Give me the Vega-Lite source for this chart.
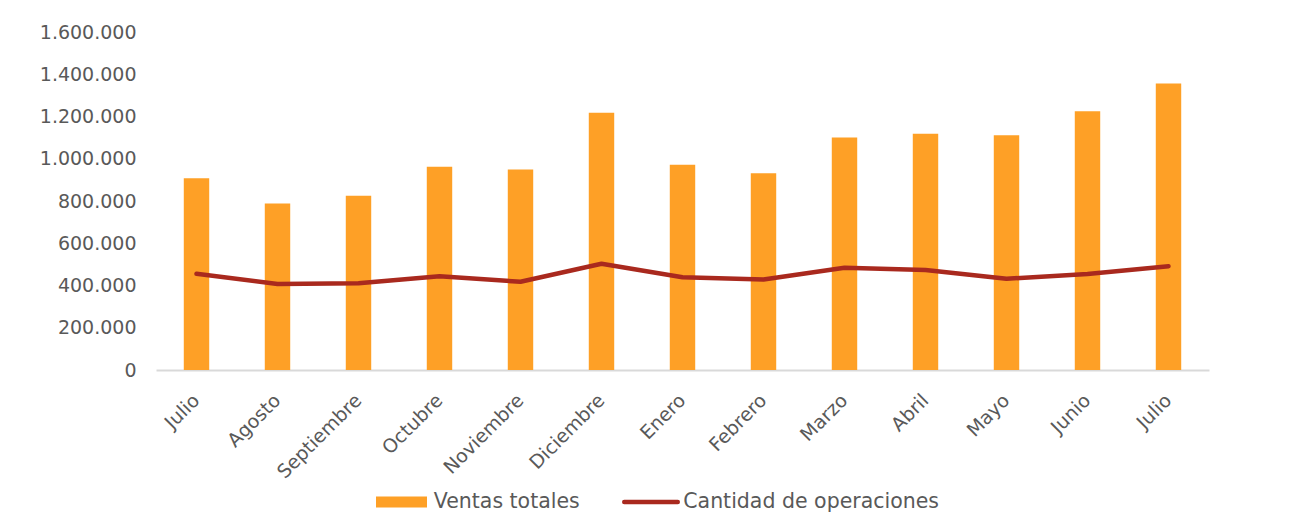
{
  "$schema": "https://vega.github.io/schema/vega-lite/v6.json",
  "width": 1053,
  "height": 338,
  "autosize": "none",
  "padding": {"left": 156, "top": 32, "right": 89, "bottom": 160},
  "background": "white",
  "config": {
    "view": {"stroke": null},
    "font": "DejaVu Sans",
    "locale": {"number": {"decimal": ",", "thousands": ".", "grouping": [3], "currency": ["", ""]}},
    "axis": {"labelColor": "#595959", "labelFont": "DejaVu Sans", "grid": false, "ticks": false, "title": null}
  },
  "data": {
    "values": [
      {"mes": "Julio 2023", "ventas": 908000, "operaciones": 455400},
      {"mes": "Agosto 2023", "ventas": 788000, "operaciones": 407100},
      {"mes": "Septiembre 2023", "ventas": 824500, "operaciones": 410900},
      {"mes": "Octubre 2023", "ventas": 962000, "operaciones": 444000},
      {"mes": "Noviembre 2023", "ventas": 949000, "operaciones": 417500},
      {"mes": "Diciembre 2023", "ventas": 1217500, "operaciones": 502700},
      {"mes": "Enero 2024", "ventas": 971400, "operaciones": 439300},
      {"mes": "Febrero 2024", "ventas": 931600, "operaciones": 428400},
      {"mes": "Marzo 2024", "ventas": 1100600, "operaciones": 483800},
      {"mes": "Abril 2024", "ventas": 1118100, "operaciones": 473400},
      {"mes": "Mayo 2024", "ventas": 1111000, "operaciones": 432200},
      {"mes": "Junio 2024", "ventas": 1224600, "operaciones": 454400},
      {"mes": "Julio 2024", "ventas": 1356200, "operaciones": 491400}
    ]
  },
  "encoding": {
    "x": {
      "field": "mes",
      "type": "nominal",
      "sort": null,
      "scale": {"paddingInner": 0.686, "paddingOuter": 0.343},
      "axis": {
        "labelExpr": "split(datum.value, ' ')[0]",
        "labelAngle": -45,
        "labelAlign": "right",
        "labelBaseline": "middle",
        "labelFontSize": 19,
        "labelPadding": 27,
        "domainColor": "#d9d9d9",
        "domainWidth": 2
      }
    }
  },
  "layer": [
    {
      "mark": {"type": "bar", "color": "#FEA026"},
      "encoding": {
        "y": {
          "field": "ventas",
          "type": "quantitative",
          "scale": {"domain": [0, 1600000], "nice": false},
          "axis": {
            "values": [0, 200000, 400000, 600000, 800000, 1000000, 1200000, 1400000, 1600000],
            "format": ",d",
            "domain": false,
            "labelFontSize": 19,
            "labelPadding": 20
          }
        },
        "color": {
          "datum": "Ventas totales",
          "type": "nominal",
          "scale": {"domain": ["Ventas totales", "Cantidad de operaciones"], "range": ["#FEA026", "#A9291E"]},
          "legend": {
            "orient": "none",
            "legendX": 220,
            "legendY": 459.5,
            "direction": "horizontal",
            "title": null,
            "labelFontSize": 20.5,
            "labelFont": "DejaVu Sans",
            "labelColor": "#595959",
            "labelLimit": 400,
            "labelOffset": 22,
            "symbolOffset": 15.25,
            "columnPadding": 34.5,
            "symbolSize": 100,
            "encode": {
              "symbols": {
                "update": {
                  "shape": {"signal": "datum.value === 'Ventas totales' ? 'M-5.1,-1.1H5.1V1.1H-5.1Z' : 'M-5.35,0H5.35'"},
                  "fill": {"signal": "datum.value === 'Ventas totales' ? '#FEA026' : 'transparent'"},
                  "stroke": {"signal": "datum.value === 'Ventas totales' ? 'transparent' : '#A9291E'"},
                  "strokeWidth": {"signal": "datum.value === 'Ventas totales' ? 0 : 4.5"},
                  "strokeCap": {"value": "round"},
                  "opacity": {"value": 1}
                }
              }
            }
          }
        }
      }
    },
    {
      "mark": {"type": "line", "strokeWidth": 4.5, "strokeCap": "round", "strokeJoin": "round", "color": "#A9291E"},
      "encoding": {
        "y": {"field": "operaciones", "type": "quantitative"},
        "color": {"datum": "Cantidad de operaciones", "type": "nominal"}
      }
    }
  ]
}
